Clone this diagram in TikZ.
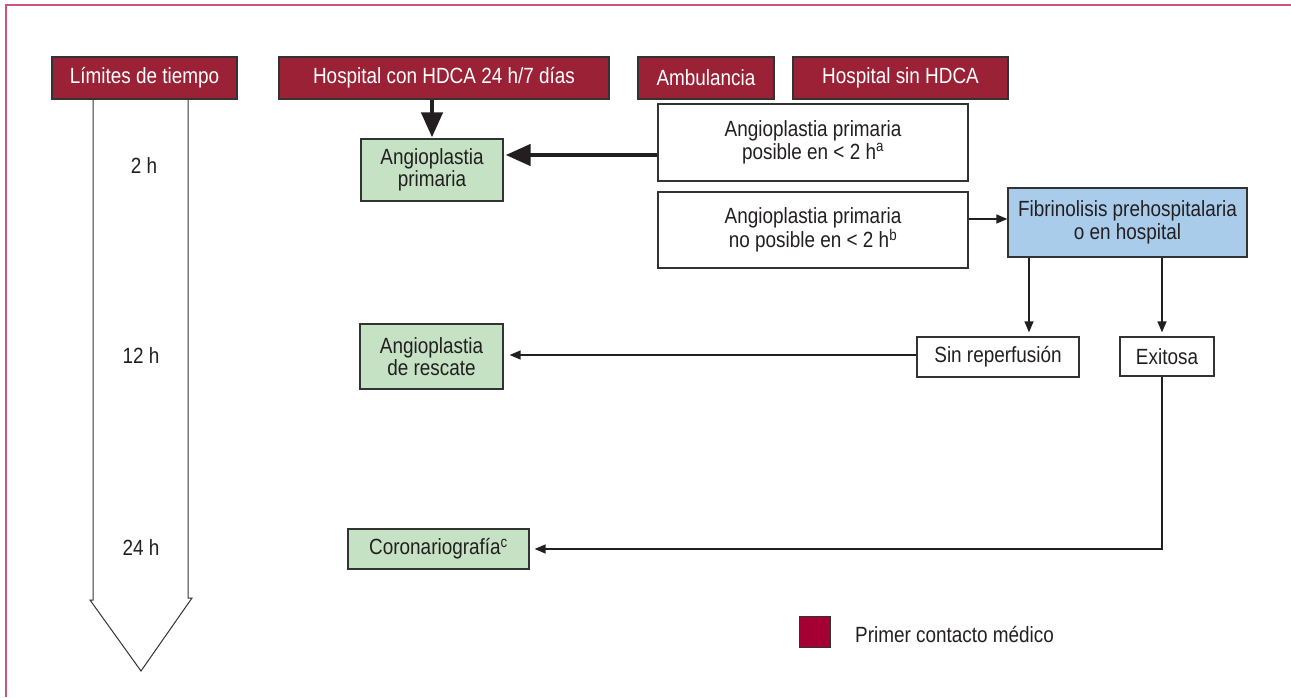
\documentclass[tikz,border=0pt]{standalone}
\usepackage{fontspec}
\setmainfont{Liberation Sans}[FakeStretch=0.86]
\usetikzlibrary{arrows.meta}
\definecolor{hdr}{HTML}{9B2236}
\definecolor{legred}{HTML}{A50034}
\definecolor{grn}{HTML}{C5E3C4}
\definecolor{blu}{HTML}{AACCEB}
\definecolor{txt}{HTML}{231F20}
\definecolor{boxline}{HTML}{333333}
\definecolor{frame}{HTML}{CF537B}
\begin{document}
\begin{tikzpicture}[x=1pt,y=-1pt,
  font=\fontsize{22}{22.5}\selectfont,
  box/.style={draw=boxline, line width=1.3pt, inner sep=0pt, align=center, text=txt},
  hdrbox/.style={box, fill=hdr, text=white, minimum height=42pt},
  greenbox/.style={box, fill=grn},
  bluebox/.style={box, fill=blu},
  whitebox/.style={box, fill=white},
  fat/.style={line width=4.5pt, draw=txt, -{Triangle[length=25pt,width=21pt]}},
  thin/.style={line width=1.4pt, draw=txt, -{Triangle[length=11pt,width=9pt]}},
  timelbl/.style={text=txt, inner sep=0pt}
]
\useasboundingbox (0,0) rectangle (1291,697);
% frame (top and left edge)
\draw[frame, line width=2pt] (6,697) -- (6,5) -- (1291,5);

% time arrow (outline)
\draw[line width=1pt, draw=boxline] (93,99) -- (93,600) -- (90,600) -- (141,671) -- (192,598) -- (188,598) -- (188,99);

% headers
\node[hdrbox, minimum width=185pt] (lim)  at (144.5,78) {Límites de tiempo};
\node[hdrbox, minimum width=330pt] (hosp) at (444,78) {Hospital con HDCA 24 h/7 días};
\node[hdrbox, minimum width=136pt] (amb)  at (706,78) {Ambulancia};
\node[hdrbox, minimum width=215pt] (hsin) at (900.5,78) {Hospital sin HDCA};

% time labels
\node[timelbl] (t2)  at (144,166) {2 h};
\node[timelbl] (t12) at (141,356) {12 h};
\node[timelbl] (t24) at (141,548) {24 h};

% boxes
\node[greenbox, minimum width=142pt, minimum height=62pt] (apri) at (432,170) {Angioplastia\\primaria};
\node[whitebox, minimum width=310pt, minimum height=77pt] (pos) at (813,142.5) {Angioplastia primaria\\posible en < 2 h\textsuperscript{a}};
\node[whitebox, minimum width=310pt, minimum height=76pt] (nopos) at (813,230) {Angioplastia primaria\\no posible en < 2 h\textsuperscript{b}};
\node[bluebox, minimum width=239pt, minimum height=69pt] (fib) at (1127.5,222.5) {Fibrinolisis prehospitalaria\\o en hospital};
\node[whitebox, minimum width=162pt, minimum height=40pt] (sinr) at (998,357) {Sin reperfusión};
\node[whitebox, minimum width=94pt, minimum height=39pt] (exi) at (1167,356.5) {Exitosa};
\node[greenbox, minimum width=143pt, minimum height=65pt] (resc) at (431.5,356.5) {Angioplastia\\de rescate};
\node[greenbox, minimum width=181pt, minimum height=40pt] (coro) at (438.5,549) {Coronariografía\textsuperscript{c}};

% legend
\node[draw=boxline, line width=1pt, fill=legred, minimum width=31pt, minimum height=31pt, inner sep=0pt] (legsq) at (814.5,631.5) {};
\node[anchor=west, text=txt, inner sep=0pt] (legtxt) at (855,634) {Primer contacto médico};

% connectors
\draw[fat] (hosp.south -| apri.north) -- ([yshift=1pt]apri.north);
\draw[fat] ([yshift=-12.5pt]pos.west) -- ([yshift=-12.5pt,xshift=2pt]pos.west -| apri.east);
\draw[thin] (nopos.east |- 0,219) -- (fib.west |- 0,219);
\draw[thin, shorten >=4pt] (fib.south -| 1029,0) -- (sinr.north -| 1029,0);
\draw[thin, shorten >=4pt] (fib.south -| 1162,0) -- (exi.north -| 1162,0);
\draw[thin, shorten >=6pt] ([yshift=2pt]sinr.west) -- ([yshift=2pt]sinr.west -| resc.east);
\draw[thin, shorten >=5pt] ([xshift=-5pt]exi.south) |- (coro.east);
\end{tikzpicture}
\end{document}
